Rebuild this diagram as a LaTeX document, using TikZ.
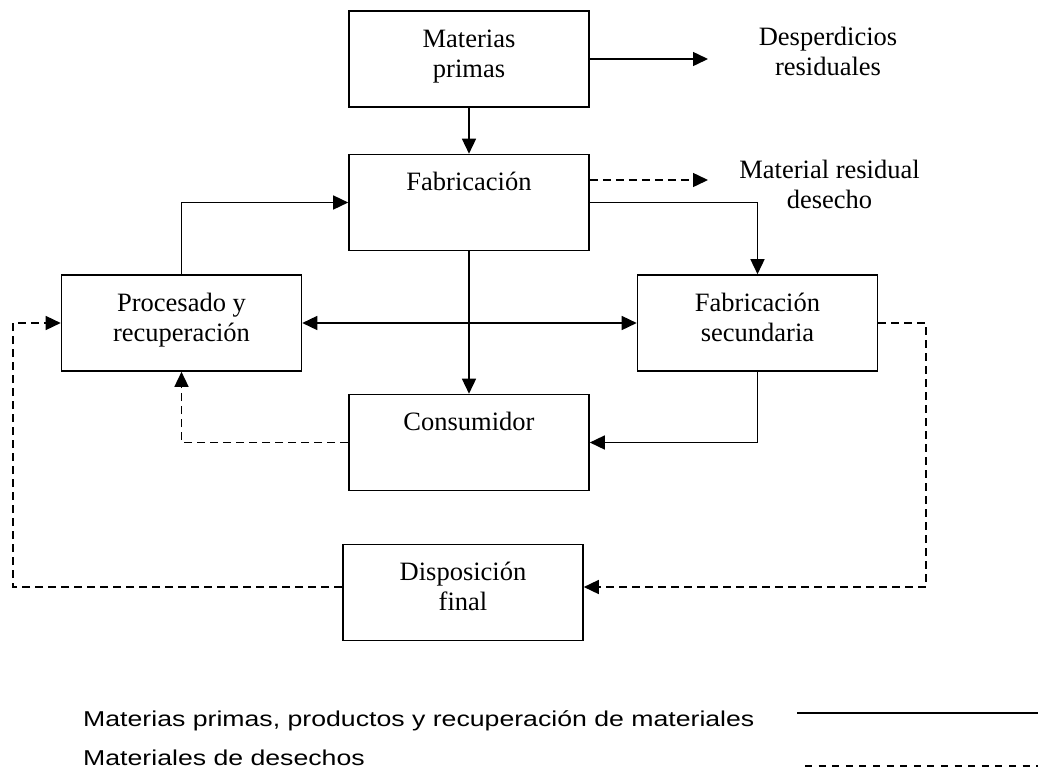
\documentclass[tikz,border=0pt]{standalone}
\usepackage{fontspec}
\setmainfont{Liberation Serif}
\newfontfamily\legendfont[FakeStretch=1.24]{Liberation Sans}
\usetikzlibrary{arrows.meta,calc}
\tikzset{
  box-stage/.style={draw,line width=1.6pt,inner sep=0pt},
  text-stage/.style={inner sep=0pt,anchor=base},
  text-legend/.style={inner sep=0pt,anchor=base west,
    font=\legendfont\fontsize{21.5pt}{25pt}\selectfont},
  arrow-flow/.style={-{Triangle[length=15pt,width=14pt]},line width=1.5pt},
  arrow-both/.style={{Triangle[length=15pt,width=14pt]}-{Triangle[length=15pt,width=14pt]},
    line width=1.5pt},
  arrow-waste/.style={arrow-flow,dash pattern=on 8pt off 5pt},
  line-flow/.style={line width=1.5pt},
  line-waste/.style={line width=1.5pt,dash pattern=on 7pt off 6.6pt},
}
\newcommand{\stagetext}[1]{\parbox[c][96pt][t]{240pt}{\centering
  \fontsize{26.5pt}{30pt}\selectfont\rule{0pt}{36pt}#1}}
\newcommand{\sidetext}[1]{\parbox[t]{220pt}{\centering
  \fontsize{26.5pt}{30pt}\selectfont #1}}

\begin{document}
\begin{tikzpicture}[x=1pt,y=1pt]
  \useasboundingbox (0,0) rectangle (1041,-774);
  % etapas del ciclo
  \node[box-stage] at (469,-59) (mp) {\stagetext{Materias\\primas}};
  \node[box-stage] at (469,-202.5) (fab) {\stagetext{Fabricación}};
  \node[box-stage] at (181.5,-323) (proc) {\stagetext{Procesado y\\recuperación}};
  \node[box-stage] at (757.5,-323) (fsec) {\stagetext{Fabricación\\secundaria}};
  \node[box-stage] at (469,-442.5) (cons) {\stagetext{Consumidor}};
  \node[box-stage] at (463,-592.5) (disp) {\stagetext{Disposición\\final}};
  % salidas
  \node[text-stage] at (828,-45) (desp) {\sidetext{Desperdicios\\residuales}};
  \node[text-stage] at (829.5,-178) (mres) {\sidetext{Material residual\\desecho}};
  \coordinate (desp-in) at (708,-59);
  \coordinate (mres-in) at (708,-180);
  \coordinate (left-x) at (13,0);
  \coordinate (right-x) at (926,0);
  \coordinate (disp-l) at ([yshift=5.5pt]disp.west);
  \coordinate (disp-r) at ([yshift=5.5pt]disp.east);
  % flujos de materiales
  \draw[arrow-flow] (mp) -- (fab);
  \draw[arrow-flow] (mp.east) -- (desp-in);
  \draw[arrow-waste] (fab.east |- mres-in) -- (mres-in);
  \draw[arrow-flow] (fab.east) -| (fsec.north);
  \draw[arrow-flow] (fab) -- (cons);
  \draw[arrow-flow] (proc.north) |- (fab.west);
  \draw[arrow-both] (proc) -- (fsec);
  \draw[arrow-flow] (fsec.south) |- (cons.east);
  % desechos
  \draw[arrow-waste] (cons.west) -| (proc.south);
  \draw[arrow-waste] (fsec.east) -- (fsec.east -| right-x) -- (disp-r -| right-x) -- (disp-r);
  \draw[arrow-waste] (disp-l) -- (disp-l -| left-x) -- (proc.west -| left-x) -- (proc.west);
  % leyenda
  \node[text-legend] at (83,-726) (leg-flow) {Materias primas, productos y recuperación de materiales};
  \node[text-legend] at (83,-765) (leg-waste) {Materiales de desechos};
  \draw[line-flow] (797,-713) -- (1038,-713);
  \draw[line-waste] (805,-766) -- (1038,-766);
\end{tikzpicture}
\end{document}
